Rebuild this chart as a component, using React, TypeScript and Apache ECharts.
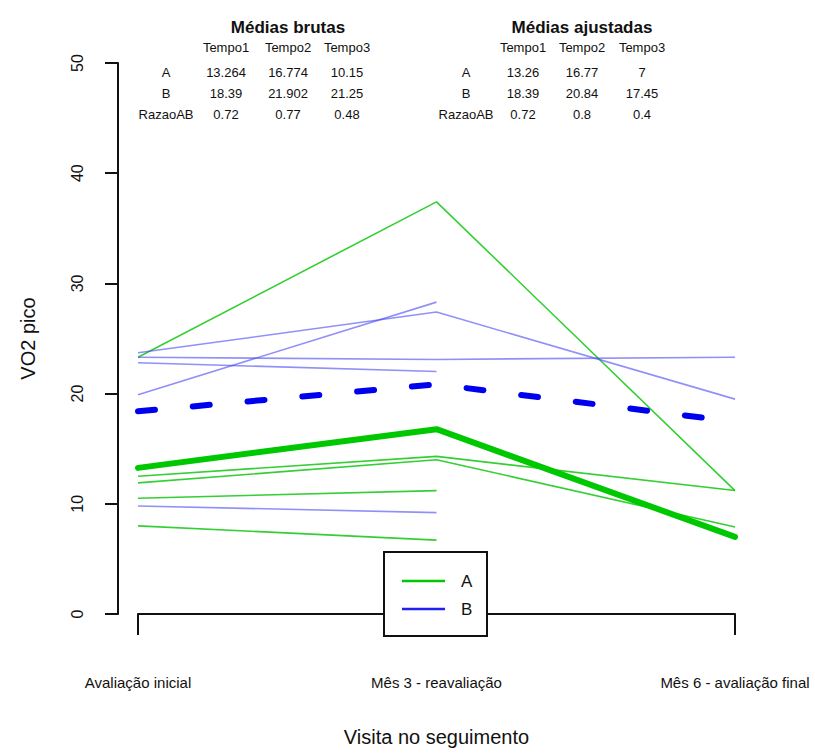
import React, { useEffect, useRef } from "react";
import * as echarts from "echarts";

// ---- data ----
const visits = ["Avaliação inicial", "Mês 3 - reavaliação", "Mês 6 - avaliação final"];
const yTicksMin = 0;
const yTicksMax = 50;
const yTicksStep = 10;

// individual subjects, group A (green)
const subjA1 = [23.3, 37.4, 11.2];
const subjA2 = [12.5, 14.3, 11.2];
const subjA3 = [11.9, 14.0, 7.9];
const subjA4 = [10.5, 11.2, null];
const subjA5 = [8.0, 6.7, null];
// individual subjects, group B (blue)
const subjB1 = [23.7, 27.4, 19.5];
const subjB2 = [19.9, 28.3, null];
const subjB3 = [23.3, 23.1, 23.3];
const subjB4 = [22.8, 22.0, null];
const subjB5 = [9.8, 9.2, null];

// adjusted means
const meanA = [13.26, 16.77, 7];
const meanB = [18.39, 20.84, 17.45];

// tables
const tempoHeaders = ["Tempo1", "Tempo2", "Tempo3"];
const rowLabels = ["A", "B", "RazaoAB"];
const rawA = ["13.264", "16.774", "10.15"];
const rawB = ["18.39", "21.902", "21.25"];
const rawRatio = ["0.72", "0.77", "0.48"];
const adjA = ["13.26", "16.77", "7"];
const adjB = ["18.39", "20.84", "17.45"];
const adjRatio = ["0.72", "0.8", "0.4"];

const FONT = "'Liberation Sans', Arial, Helvetica, sans-serif";

function txt(text: string, x: number, y: number, size: number, bold = false, align = "center") {
  return {
    type: "text",
    x,
    y,
    silent: true,
    style: {
      text,
      font: `${bold ? "bold " : ""}${size}px ${FONT}`,
      fill: "#111",
      align,
      verticalAlign: "middle",
      textAlign: align,
      textVerticalAlign: "middle",
    },
  };
}

function table(title: string, cx: number, labelX: number, colX: number[], rows: string[][]) {
  const els: any[] = [];
  els.push(txt(title, cx, 27, 17, true));
  tempoHeaders.forEach((h, i) => els.push(txt(h, colX[i], 47, 13)));
  const rowY = [72, 93, 114];
  rows.forEach((r, ri) => {
    els.push(txt(rowLabels[ri], labelX, rowY[ri], 13));
    r.forEach((v, ci) => els.push(txt(v, colX[ci], rowY[ri], 13)));
  });
  return els;
}

export default function App() {
  const ref = useRef<HTMLDivElement>(null);
  useEffect(() => {
    if (!ref.current) return;
    const chart = echarts.init(ref.current, null, { renderer: "svg" });
    const thinA = { color: "rgba(0,195,0,0.8)", width: 1.6 };
    const thinB = { color: "rgba(70,70,245,0.6)", width: 1.6 };
    const mk = (data: any[], ls: any, z = 2) => ({
      type: "line",
      data,
      symbol: "none",
      connectNulls: false,
      lineStyle: ls,
      z,
      silent: true,
    });
    const series = [
      mk(subjA1, thinA),
      mk(subjA2, thinA),
      mk(subjA3, thinA),
      mk(subjA4, thinA),
      mk(subjA5, thinA),
      mk(subjB1, thinB),
      mk(subjB2, thinB),
      mk(subjB3, thinB),
      mk(subjB4, thinB),
      mk(subjB5, thinB),
      mk(meanA, { color: "#00c800", width: 6, cap: "round", join: "round" }, 3),
      mk(meanB, { color: "#0000f0", width: 6, type: [17, 38], cap: "round", join: "round" }, 3),
    ];

    const graphics: any[] = [
      ...table("Médias brutas", 288, 166, [226, 288, 347], [rawA, rawB, rawRatio]),
      ...table("Médias ajustadas", 582, 466, [523, 582, 642], [adjA, adjB, adjRatio]),
      {
        type: "rect",
        shape: { x: 384, y: 552, width: 103, height: 84 },
        style: { fill: "#fff", stroke: "#111", lineWidth: 2 },
        z: 10,
      },
      {
        type: "line",
        shape: { x1: 402, y1: 581, x2: 445, y2: 581 },
        style: { stroke: "#00c800", lineWidth: 2.5 },
        z: 11,
      },
      {
        type: "line",
        shape: { x1: 402, y1: 609, x2: 445, y2: 609 },
        style: { stroke: "#2020f0", lineWidth: 2.5 },
        z: 11,
      },
      { ...txt("A", 461, 581, 17, false, "left"), z: 11 },
      { ...txt("B", 461, 609, 17, false, "left"), z: 11 },
    ];

    chart.setOption({
      animation: false,
      backgroundColor: "#fff",
      textStyle: { fontFamily: FONT },
      grid: { left: 138, right: 80, top: 63, bottom: 140, containLabel: false },
      xAxis: {
        type: "category",
        data: visits,
        boundaryGap: false,
        offset: 21,
        axisLine: { show: true, lineStyle: { color: "#111", width: 2 } },
        axisTick: { show: true, length: 21, alignWithLabel: true, lineStyle: { color: "#111", width: 2 } },
        axisLabel: { color: "#111", fontSize: 15, margin: 40, fontFamily: FONT, interval: 0 },
        splitLine: { show: false },
        name: "Visita no seguimento",
        nameLocation: "middle",
        nameGap: 92,
        nameTextStyle: { color: "#111", fontSize: 20, fontFamily: FONT },
      },
      yAxis: {
        type: "value",
        min: yTicksMin,
        max: yTicksMax,
        interval: yTicksStep,
        offset: 20,
        axisLine: { show: true, lineStyle: { color: "#111", width: 2 } },
        axisTick: { show: true, length: 13, lineStyle: { color: "#111", width: 2 } },
        axisLabel: { color: "#111", fontSize: 16, rotate: 90, margin: 33, fontFamily: FONT },
        splitLine: { show: false },
        name: "VO2 pico",
        nameLocation: "middle",
        nameRotate: 90,
        nameGap: 80,
        nameTextStyle: { color: "#111", fontSize: 20, fontFamily: FONT },
      },
      series,
      graphic: graphics,
    });
    return () => chart.dispose();
  }, []);
  return (
    <div
      ref={ref}
      style={{ position: "absolute", left: 0, top: 0, width: 815, height: 754, background: "#fff" }}
    />
  );
}
